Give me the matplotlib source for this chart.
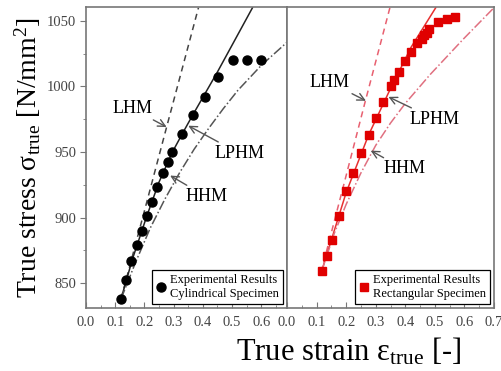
import numpy as np
import matplotlib
matplotlib.use("Agg")
import matplotlib.pyplot as plt
from matplotlib.lines import Line2D

plt.rcParams['font.family'] = ['Liberation Serif', 'DejaVu Serif']
plt.rcParams['mathtext.fontset'] = 'custom'
plt.rcParams['mathtext.rm'] = 'Liberation Serif'
plt.rcParams['mathtext.it'] = 'Liberation Serif:italic'

# cylindrical specimen (left)
cyl_x = [0.12, 0.137, 0.155, 0.174, 0.19, 0.208, 0.227, 0.244, 0.262, 0.279,
         0.296, 0.33, 0.365, 0.408, 0.451, 0.502, 0.55, 0.60]
cyl_y = [838, 852, 867, 879, 890, 901, 912, 923, 934, 942,
         950, 964, 978, 992, 1007, 1020, 1020, 1020]
cyl_lhm_x = [0.12, 0.2, 0.276, 0.385]
cyl_lhm_y = [838, 905, 969, 1060]
cyl_lphm_x = [0.12, 0.16, 0.208, 0.25, 0.296, 0.33, 0.365, 0.45, 0.57]
cyl_lphm_y = [838, 869, 901, 927, 950, 964, 978, 1011, 1060]
cyl_hhm_x = [0.12, 0.17, 0.22, 0.27, 0.32, 0.37, 0.42, 0.47, 0.52, 0.6, 0.69]
cyl_hhm_y = [838, 866, 892, 914, 934, 952, 968, 983, 997, 1016, 1034]

# rectangular specimen (right)
rect_x = [0.117, 0.134, 0.151, 0.175, 0.2, 0.224, 0.249, 0.276, 0.3, 0.326,
          0.351, 0.363, 0.38, 0.399, 0.419, 0.439, 0.455, 0.464, 0.472, 0.48,
          0.51, 0.54, 0.568]
rect_y = [859, 871, 883, 901, 920, 934, 949, 963, 976, 988,
          1000, 1005, 1011, 1019, 1026, 1033, 1036, 1039, 1041, 1044,
          1049, 1051, 1053]
rect_lhm_x = [0.115, 0.2, 0.264, 0.348]
rect_lhm_y = [858, 932, 988, 1060]
rect_lphm_x = [0.117, 0.2, 0.276, 0.343, 0.42, 0.503]
rect_lphm_y = [859, 919, 963, 995, 1030, 1060]
rect_hhm_x = [0.117, 0.16, 0.2, 0.25, 0.3, 0.35, 0.4, 0.484, 0.596, 0.7]
rect_hhm_y = [859, 888, 910, 934, 955, 972, 987, 1009, 1036, 1060]

xticks_left = [0.0, 0.1, 0.2, 0.3, 0.4, 0.5, 0.6]
xticks_right = [0.0, 0.1, 0.2, 0.3, 0.4, 0.5, 0.6, 0.7]
yticks = [850, 900, 950, 1000, 1050]

fig = plt.figure(figsize=(5.02, 3.71), dpi=100)
ax1 = fig.add_axes([0.1713, 0.1698, 0.4004, 0.8113])
ax2 = fig.add_axes([0.5717, 0.1698, 0.4124, 0.8113])

spine_c = '#777777'
tick_c = '#444444'

for ax, xt, xmax in [(ax1, xticks_left, 0.688), (ax2, xticks_right, 0.70)]:
    ax.set_xlim(0, xmax)
    ax.set_ylim(831, 1060.5)
    ax.set_xticks(xt)
    ax.set_xticks(np.arange(0.05, xmax, 0.1), minor=True)
    ax.set_xticklabels(['%.1f' % v for v in xt])
    for s in ax.spines.values():
        s.set_color(spine_c)
        s.set_linewidth(1.2)
    ax.tick_params(axis='x', which='major', direction='in', length=4, color=spine_c,
                   labelsize=10.5, labelcolor=tick_c, pad=6)
    ax.tick_params(axis='x', which='minor', direction='in', length=2, color=spine_c)
    ax.tick_params(axis='x', which='both', top=False)

ax1.set_yticks(yticks)
ax1.set_yticks([875, 925, 975, 1025], minor=True)
ax1.tick_params(axis='y', which='major', direction='out', length=4, color=spine_c,
                labelsize=10.5, labelcolor=tick_c, pad=3)
ax1.tick_params(axis='y', which='minor', direction='out', length=2, color=spine_c)
ax2.set_yticks([])

# left panel
ax1.plot(cyl_lhm_x, cyl_lhm_y, '--', color='#444444', lw=1.1, dashes=(4, 3))
ax1.plot(cyl_lphm_x, cyl_lphm_y, '-', color='#222222', lw=1.1)
ax1.plot(cyl_hhm_x, cyl_hhm_y, '-.', color='#555555', lw=1.1)
ax1.plot(cyl_x, cyl_y, 'o', color='black', ms=6.5, zorder=5)

# right panel
ax2.plot(rect_lhm_x, rect_lhm_y, '--', color='#e86070', lw=1.1, dashes=(4, 3))
ax2.plot(rect_lphm_x, rect_lphm_y, '-', color='#e83030', lw=1.1)
ax2.plot(rect_hhm_x, rect_hhm_y, '-.', color='#e07080', lw=1.1)
ax2.plot(rect_x, rect_y, 's', color='#e00000', ms=6, zorder=5)

arrow = dict(arrowstyle='->', color='#555555', lw=1.0, shrinkA=0, shrinkB=0)
lab_fs = 13
ax1.annotate('LHM', xy=(0.276, 969), xytext=(0.158, 983), fontsize=lab_fs,
             ha='center', va='center', arrowprops=arrow)
ax1.annotate('LPHM', xy=(0.350, 970), xytext=(0.524, 949), fontsize=lab_fs,
             ha='center', va='center', arrowprops=arrow)
ax1.annotate('HHM', xy=(0.288, 932), xytext=(0.411, 916), fontsize=lab_fs,
             ha='center', va='center', arrowprops=arrow)
ax2.annotate('LHM', xy=(0.267, 989), xytext=(0.145, 1003), fontsize=lab_fs,
             ha='center', va='center', arrowprops=arrow)
ax2.annotate('LPHM', xy=(0.343, 992), xytext=(0.50, 975), fontsize=lab_fs,
             ha='center', va='center', arrowprops=arrow)
ax2.annotate('HHM', xy=(0.283, 951), xytext=(0.396, 937), fontsize=lab_fs,
             ha='center', va='center', arrowprops=arrow)

leg_kw = dict(loc='lower right', fontsize=9, frameon=True, fancybox=False,
              edgecolor='black', framealpha=1, handlelength=0.7, handletextpad=0.4,
              borderpad=0.3, borderaxespad=0.35)
h1 = Line2D([], [], marker='o', color='black', ls='none', ms=6.5)
l1 = ax1.legend([h1], ['Experimental Results\nCylindrical Specimen'], **leg_kw)
l1.get_frame().set_linewidth(0.9)
h2 = Line2D([], [], marker='s', color='#e00000', ls='none', ms=6)
l2 = ax2.legend([h2], ['Experimental Results\nRectangular Specimen'], **leg_kw)
l2.get_frame().set_linewidth(0.9)

fig.text(28 / 502, 1 - 158 / 371, r'True stress $\mathrm{\sigma_{true}}$ [N/mm$^2$]',
         rotation=90, ha='center', va='center', fontsize=20)
fig.text(349 / 502, 1 - 352 / 371, r'True strain $\mathrm{\varepsilon_{true}}$ [-]',
         ha='center', va='center', fontsize=22)

fig.savefig('out.png', dpi=100)
